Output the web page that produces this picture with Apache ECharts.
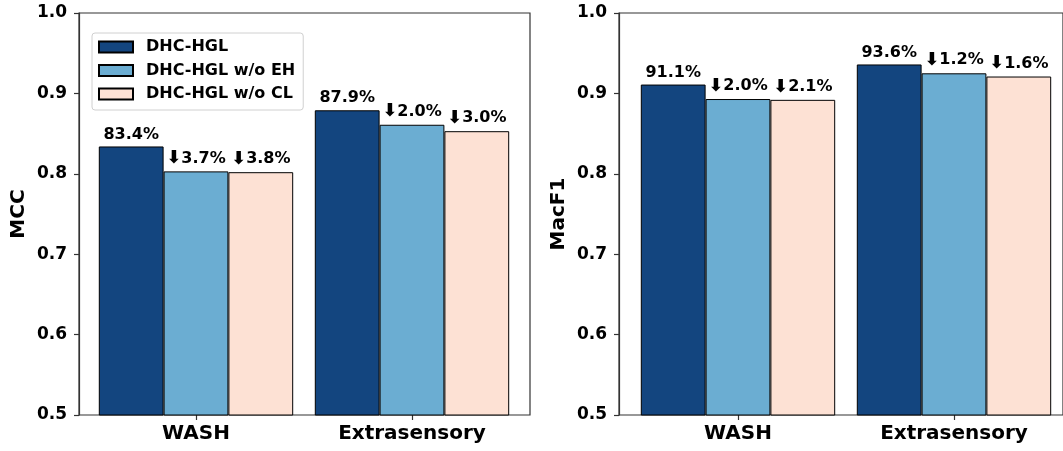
<!DOCTYPE html>
<html>
<head>
<meta charset="utf-8">
<script src="https://cdn.jsdelivr.net/npm/echarts@6/dist/echarts.min.js"></script>
<style>html,body{margin:0;padding:0;background:#fff;}#c{width:1063px;height:451px;}</style>
</head>
<body>
<div id="c"></div>
<script>
const categories = ['WASH', 'Extrasensory'];
const seriesNames = ['DHC-HGL', 'DHC-HGL w/o EH', 'DHC-HGL w/o CL'];
const colors = ['#13457f', '#6badd2', '#fde1d4'];

const mccDHC = [0.834, 0.879];
const mccEH = [0.803, 0.861];
const mccCL = [0.802, 0.853];
const mccLabelsDHC = ['83.4%', '87.9%'];
const mccLabelsEH = ['\u2B073.7%', '\u2B072.0%'];
const mccLabelsCL = ['\u2B073.8%', '\u2B073.0%'];

const f1DHC = [0.911, 0.936];
const f1EH = [0.893, 0.925];
const f1CL = [0.892, 0.921];
const f1LabelsDHC = ['91.1%', '93.6%'];
const f1LabelsEH = ['\u2B072.0%', '\u2B071.2%'];
const f1LabelsCL = ['\u2B072.1%', '\u2B071.6%'];

const yTicksMin = 0.5, yTicksMax = 1.0, yTickStep = 0.1;

const FONT = 'DejaVu Sans';
const AX = '#333';

function frameY(gridIndex, name) {
  return {
    gridIndex, type: 'value', min: yTicksMin, max: yTicksMax, interval: yTickStep,
    name, nameLocation: 'middle', nameGap: 50, nameRotate: 90,
    nameTextStyle: { fontFamily: FONT, fontWeight: 'bold', fontSize: 20, color: '#000' },
    axisLine: { show: true, lineStyle: { color: AX, width: 1.2 } },
    axisTick: { show: true, length: 5, lineStyle: { color: AX, width: 1.2 } },
    axisLabel: { margin: 12, fontFamily: FONT, fontWeight: 'bold', fontSize: 17, color: '#000',
      formatter: v => v.toFixed(1) },
    splitLine: { show: false }
  };
}
function hiddenY(gridIndex) {
  return { gridIndex, type: 'value', min: yTicksMin, max: yTicksMax, interval: yTickStep, show: false, splitLine: { show: false } };
}
function barX(gridIndex) {
  return {
    gridIndex, type: 'category', data: categories,
    axisLine: { show: false },
    axisTick: { show: true, alignWithLabel: true, length: 5, inside: false, lineStyle: { color: AX, width: 1.2 } },
    axisLabel: { margin: 9, fontFamily: FONT, fontWeight: 'bold', fontSize: 20, color: '#000' }
  };
}
function hiddenX(gridIndex) {
  return { gridIndex, type: 'category', data: categories, show: false };
}
function bar(i, data, labels, axisIdx) {
  return {
    type: 'bar', name: seriesNames[i], data,
    xAxisIndex: axisIdx, yAxisIndex: axisIdx,
    barWidth: 64.8, barGap: '0%',
    itemStyle: { color: colors[i], borderColor: '#000', borderWidth: 1 },
    label: { show: true, position: 'top', distance: 4, fontFamily: FONT, fontWeight: 'bold', fontSize: 16, color: '#000',
      formatter: p => {
        const t = labels[p.dataIndex];
        return t.charAt(0) === '\u2B07' ? '{a|\u2B07}' + t.slice(1) : t;
      },
      rich: { a: { fontFamily: FONT, fontWeight: 'bold', fontSize: 18, color: '#000' } }
    },
    emphasis: { disabled: true }
  };
}

const chart = echarts.init(document.getElementById('c'), null, { renderer: 'canvas' });
chart.setOption({
  animation: false,
  backgroundColor: '#fff',
  grid: [
    { left: 79, top: 13, width: 451, height: 402, show: true, borderColor: AX, borderWidth: 1.2, backgroundColor: 'transparent' },
    { left: 88, top: 13, width: 432, height: 402 },
    { left: 619, top: 13, width: 452, height: 402, show: true, borderColor: AX, borderWidth: 1.2, backgroundColor: 'transparent' },
    { left: 630, top: 13, width: 432, height: 402 }
  ],
  xAxis: [hiddenX(0), barX(1), hiddenX(2), barX(3)],
  yAxis: [frameY(0, 'MCC'), hiddenY(1), frameY(2, 'MacF1'), hiddenY(3)],
  legend: {
    data: seriesNames, orient: 'vertical', left: 92, top: 33,
    icon: 'rect',
    itemWidth: 34, itemHeight: 11, itemGap: 7.5,
    padding: [6, 8, 8, 6],
    backgroundColor: '#fff', borderColor: '#d0d0d0', borderWidth: 1, borderRadius: 3,
    textStyle: { fontFamily: FONT, fontWeight: 'bold', fontSize: 16, color: '#000', padding: [0, 0, 0, 8] }
  },
  series: [
    bar(0, mccDHC, mccLabelsDHC, 1),
    bar(1, mccEH, mccLabelsEH, 1),
    bar(2, mccCL, mccLabelsCL, 1),
    bar(0, f1DHC, f1LabelsDHC, 3),
    bar(1, f1EH, f1LabelsEH, 3),
    bar(2, f1CL, f1LabelsCL, 3)
  ]
});
</script>
</body>
</html>
